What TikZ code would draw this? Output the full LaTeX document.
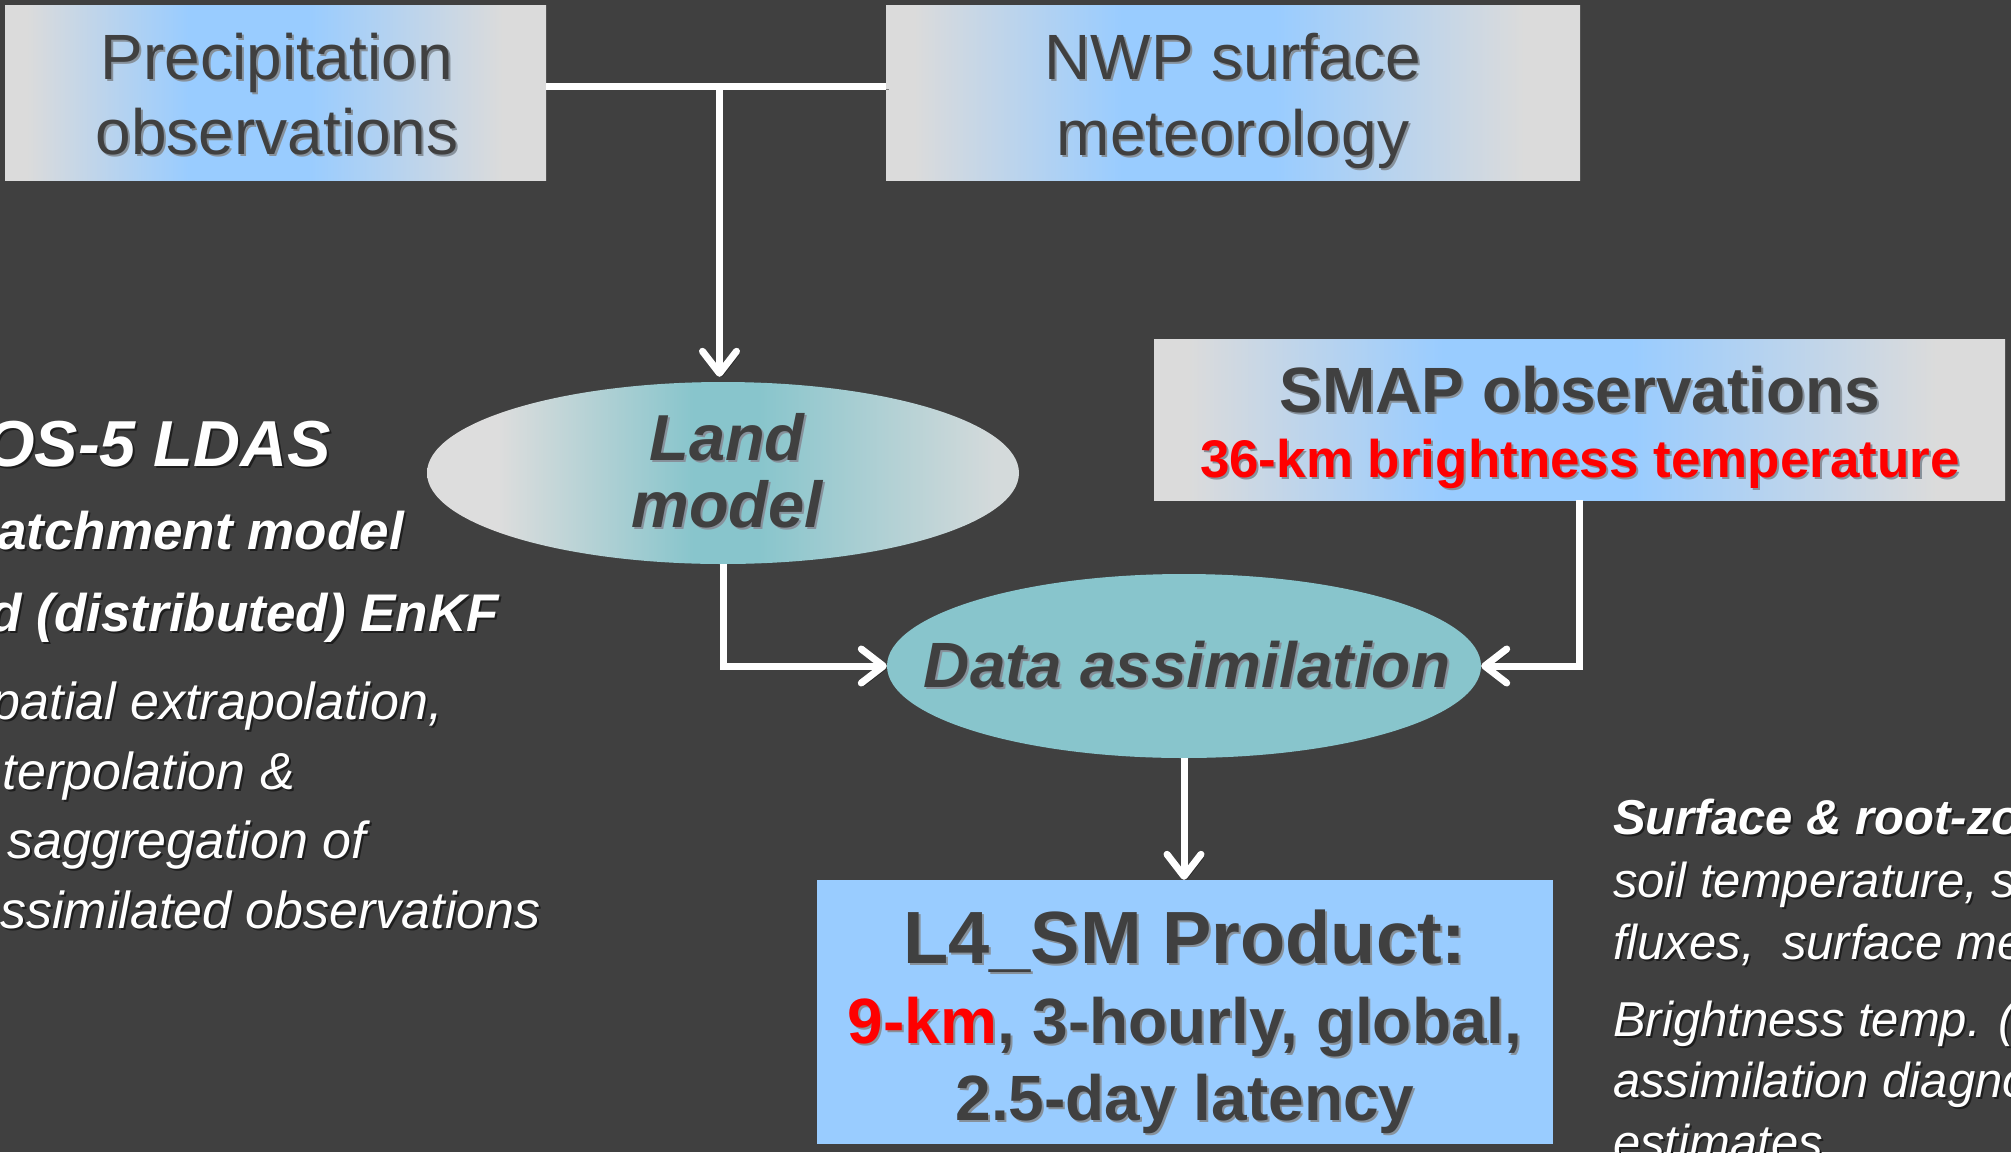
\documentclass[tikz,border=0pt]{standalone}
\usepackage{fontspec}
\setmainfont{Liberation Sans}
\usetikzlibrary{shapes.geometric,arrows.meta}
\definecolor{bgc}{RGB}{64,64,64}
\definecolor{txtc}{RGB}{64,64,64}
\definecolor{bxgray}{RGB}{219,219,219}
\definecolor{bxblue}{RGB}{153,204,255}
\definecolor{tealc}{RGB}{136,197,204}
\definecolor{elgray}{RGB}{221,221,221}
\definecolor{elgrayr}{RGB}{212,218,219}
\definecolor{dshc}{RGB}{135,145,155}
\definecolor{wshc}{RGB}{30,30,30}
\definecolor{redc}{RGB}{255,0,0}
\pgfdeclarehorizontalshading{boxsh}{100bp}{color(0bp)=(bxgray); color(27bp)=(bxgray); color(42bp)=(bxblue); color(53bp)=(bxblue); color(71bp)=(bxgray); color(100bp)=(bxgray)}
\pgfdeclarehorizontalshading{landsh}{100bp}{color(0bp)=(elgray); color(31bp)=(elgray); color(47.5bp)=(tealc); color(53bp)=(tealc); color(73bp)=(elgrayr); color(100bp)=(elgrayr)}
\newcommand\dsh[1]{\leavevmode\rlap{\kern2pt\raisebox{-2pt}{\textcolor{dshc}{#1}}}#1}
\newcommand\wsh[1]{\leavevmode\rlap{\kern2pt\raisebox{-2pt}{\textcolor{wshc}{#1}}}#1}
\tikzset{
  box/.style={shade, shading=boxsh, draw=none, inner sep=0pt},
  conn/.style={draw=white, line width=7pt,
    preaction={draw=black, draw opacity=0.45, transform canvas={xshift=3pt,yshift=-3pt}}},
  arr/.style={conn, -{Straight Barb[length=22pt,width=34pt,round]}},
  tx/.style={inner sep=0pt, anchor=base, text=txtc},
  lt/.style={inner sep=0pt, anchor=base east, text=white},
  rt/.style={inner sep=0pt, anchor=base west, text=white},
  fr/.style={font=\fontsize{64}{64}\selectfont},
  fb/.style={font=\fontsize{64}{64}\selectfont\bfseries},
  fbi/.style={font=\fontsize{65}{65}\selectfont\bfseries\itshape},
  lbi/.style={font=\fontsize{53}{53}\selectfont\bfseries\itshape},
  li/.style={font=\fontsize{52}{52}\selectfont\itshape},
  rbi/.style={font=\fontsize{49}{49}\selectfont\bfseries\itshape},
  ri/.style={font=\fontsize{49}{49}\selectfont\itshape},
}
\begin{document}
\begin{tikzpicture}[x=1pt,y=-1pt]
\useasboundingbox (0,0) rectangle (2011,1152);
\fill[bgc] (0,0) rectangle (2011,1152);

% boxes and ellipses
\node[box, minimum width=541pt, minimum height=175pt] (precip) at (275.5,92.5) {};
\node[box, minimum width=694pt, minimum height=175pt] (nwp) at (1233,92.5) {};
\node[box, minimum width=851pt, minimum height=161pt] (smap) at (1579.5,419.5) {};
\node[fill=bxblue, draw=none, inner sep=0pt, minimum width=736pt, minimum height=264pt] (l4) at (1185,1012) {};
\node[ellipse, shade, shading=landsh, draw=none, inner sep=0pt, minimum width=592pt, minimum height=182pt] (land) at (723,473) {};
\node[ellipse, fill=tealc, draw=none, inner sep=0pt, minimum width=594pt, minimum height=184pt] (da) at (1184,666) {};

% connectors
\coordinate (j) at (719.5,86);
\draw[conn] (precip.east |- j) -- (nwp.west |- j);
\draw[arr, shorten >=5pt] (j) -- (j |- land.north);
\draw[arr] (land.south) |- (da.west);
\draw[arr] (smap.south) |- (da.east);
\draw[arr] (da.south) -- (da.south |- l4.north);

% box texts
\node[tx, fr] (precipA) at (277,79) {\dsh{Precipitation}};
\node[tx, fr] (precipB) at (277,154) {\dsh{observations}};
\node[tx, fr] (nwpA) at (1233,79) {\dsh{NWP surface}};
\node[tx, fr] (nwpB) at (1233,155) {\dsh{meteorology}};
\node[tx, fb] (smapA) at (1580,412) {\dsh{SMAP observations}};
\node[tx, font=\fontsize{53}{53}\selectfont\bfseries, text=redc] (smapB) at (1580,477) {\dsh{36-km brightness temperature}};
\node[tx, fbi] (landA) at (727,460) {\dsh{Land}};
\node[tx, fbi] (landB) at (727,527) {\dsh{model}};
\node[tx, font=\fontsize{64}{64}\selectfont\bfseries\itshape] (daA) at (1187,687) {\dsh{Data assimilation}};
\node[tx, font=\fontsize{74}{74}\selectfont\bfseries] (l4A) at (1185,963) {\dsh{L4\_SM Product:}};
\node[tx, fb] (l4B) at (1185,1043) {{\color{redc}\dsh{9-km}}\dsh{, 3-hourly, global,}};
\node[tx, fb] (l4C) at (1185,1120) {\dsh{2.5-day latency}};

% left texts
\node[lt, font=\fontsize{65}{65}\selectfont\bfseries\itshape] (g1) at (331,466) {\wsh{OS-5 LDAS}};
\node[lt, lbi] (g2) at (404,549) {\wsh{atchment model}};
\node[lt, lbi] (g3) at (499,631) {\wsh{d (distributed) EnKF}};
\node[lt, li] (g4) at (443,719) {\wsh{patial extrapolation,}};
\node[lt, li] (g5) at (295,789) {\wsh{terpolation \&}};
\node[lt, li] (g6) at (366,858) {\wsh{saggregation of}};
\node[lt, li] (g7) at (541,928) {\wsh{ssimilated observations}};

% right texts
\node[rt, rbi] (r1) at (1613,834) {\wsh{Surface \& root-zo}};
\node[rt, ri] (r2) at (1613,897) {\wsh{soil temperature, sn}};
\node[rt, ri] (r3) at (1613,959) {\wsh{fluxes,\ \ surface me}};
\node[rt, ri] (r4) at (1613,1036) {\wsh{Brightness temp. (o}};
\node[rt, ri] (r5) at (1613,1097) {\wsh{assimilation diagno}};
\node[rt, ri] (r6) at (1613,1159) {\wsh{estimates}};
\end{tikzpicture}
\end{document}
